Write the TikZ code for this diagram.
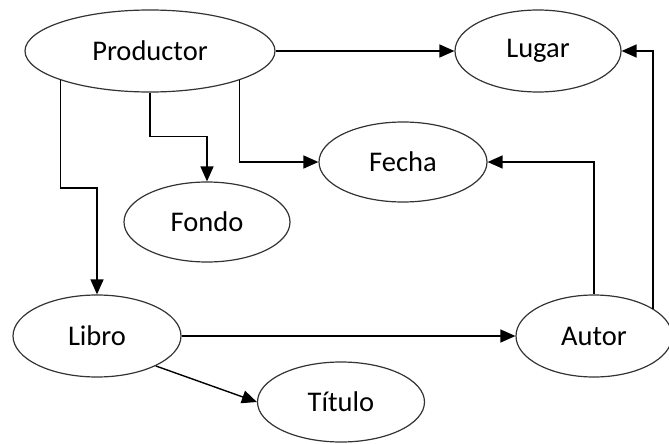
\documentclass[tikz,border=0pt]{standalone}
\usepackage{fontspec}
\setmainfont{Carlito}
\usetikzlibrary{arrows.meta,calc,shapes.geometric}

\begin{document}
\begin{tikzpicture}[x=1pt,y=1pt,>={Triangle[length=15pt,width=13pt]},
    ent/.style={ellipse,draw=black!80,line width=1.2pt,inner sep=0pt,font=\fontsize{28.5}{34}\selectfont},
    link/.style={->,line width=1.4pt}]
    \useasboundingbox (0,0) rectangle (669,-444);
    % entities
    \node[ent,minimum width=250pt,minimum height=82pt] (prod) at (150,-51) {Productor};
    \node[ent,minimum width=166pt,minimum height=82pt] (lugar) at (538,-51) {Lugar};
    \node[ent,minimum width=168pt,minimum height=80pt] (fecha) at (403,-162) {Fecha};
    \node[ent,minimum width=166pt,minimum height=80pt] (fondo) at (207,-222) {Fondo};
    \node[ent,minimum width=168pt,minimum height=82pt] (libro) at (97,-336) {Libro};
    \node[ent,minimum width=156pt,minimum height=82pt] (autor) at (594,-336) {Autor};
    \node[ent,minimum width=167pt,minimum height=80pt] (titulo) at (341,-402) {Título};
    % connectors
    \draw[link] (prod.east) -- (lugar.west);
    \draw[link] (prod.south) -- ++(0,-44) -| (fondo.north);
    \draw[link] (prod.-18) |- (fecha.west);
    \draw[link] (prod.198) -- ++(0,-108) -| (libro.north);
    \draw[link] (libro.east) -- (libro.east -| autor.west);
    \draw[link] (libro.-27) -- (titulo.west);
    \draw[link] (autor.north) |- (fecha.east);
    \draw[link] (autor.25) |- (lugar.east);
  \end{tikzpicture}
\end{document}
